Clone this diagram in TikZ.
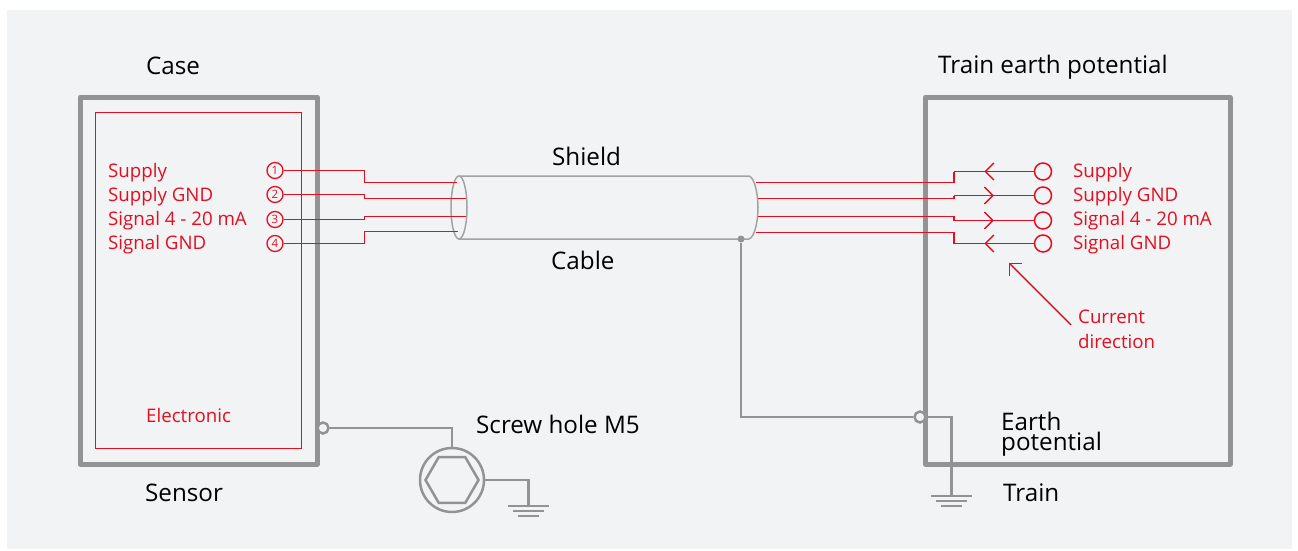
\documentclass[tikz,border=0pt]{standalone}
\usepackage{xcolor}
\usepackage{fontspec}
\setmainfont{Open Sans}
\usetikzlibrary{shapes.geometric, arrows.meta, decorations.markings}
\definecolor{panelgray}{HTML}{F2F3F5}
\definecolor{wirered}{HTML}{E30F20}
\definecolor{framegray}{HTML}{939393}
\tikzset{
  ->-/.style={
    postaction = {decorate},
    decoration = {
      markings,
      mark = at position #1 with {
        \arrow{Straight Barb[length=8.5pt, width=17pt, line width=1.4pt]}
      }
    }
  },
  ->-/.default = 0.5
}
\tikzset{
  -<-/.style={
    postaction = {decorate},
    decoration = {
      markings,
      mark = at position #1 with {
        \arrowreversed{Straight Barb[length=8.5pt, width=17pt, line width=1.4pt]}
      }
    }
  },
  -<-/.default = 0.5
}
\tikzset{
  redlabel/.style={anchor=base west, inner sep=0pt, text=wirered, font=\fontsize{18.7}{22}\selectfont},
  blacklabel/.style={anchor=base west, inner sep=0pt, text=black, font=\fontsize{24.2}{20}\selectfont},
  wire/.style={draw=wirered, line width=1.4pt},
  frame/.style={draw=framegray, line width=5pt, line join=round},
  grayline/.style={draw=framegray, line width=2.5pt},
  cableline/.style={draw=framegray!85, line width=1.5pt},
  pinnum/.style={circle, draw=wirered, line width=1.3pt, inner sep=0pt, minimum size=16pt, text=wirered, font=\fontsize{11.5}{11.5}\selectfont},
  pinopen/.style={circle, draw=wirered, fill=panelgray, line width=1.5pt, inner sep=0pt, minimum size=17pt},
  grayring/.style={circle, draw=framegray, fill=panelgray, line width=2.5pt, inner sep=0pt, minimum size=11pt}
}
\begin{document}
\begin{tikzpicture}[x=1pt, y=-1pt]
\newcommand\XStepL{364.5}
\newcommand\XStepR{954}
\newcommand\XText{1073}
\newcommand\EarthSign[1]{
  \draw[grayline] ([xshift=-20.5pt]#1) -- ([xshift=20.5pt]#1);
  \draw[grayline] ([xshift=-15.5pt, yshift=-5pt]#1) -- ([xshift=15.5pt, yshift=-5pt]#1);
  \draw[grayline] ([xshift=-10.5pt, yshift=-10pt]#1) -- ([xshift=10.5pt, yshift=-10pt]#1);
}
\useasboundingbox (0,0) rectangle (1298,551);
\fill[white] (0,0) rectangle (1298,551);
\fill[panelgray] (7,10) rectangle (1292,549);

\draw[frame] (80,97) rectangle (317,464);
\draw[frame] (925.5,97) rectangle (1230,464);
\draw[wirered, line width=1pt] (95.5,112.5) rectangle (301.5,448.5);

\node[redlabel] (Supply) at (108,177) {Supply};
\node[redlabel] (SupplyGnd) at (108,201) {Supply GND};
\node[redlabel] (Signal) at (108,225) {Signal 4 - 20 mA};
\node[redlabel] (SignalGnd) at (108,249) {Signal GND};
\node[redlabel] (Electronic) at (146,422) {Electronic};
\node[redlabel] (SupplyR) at (\XText,177) {Supply};
\node[redlabel] (SupplyGndR) at (\XText,201) {Supply GND};
\node[redlabel] (SignalR) at (\XText,225) {Signal 4 - 20 mA};
\node[redlabel] (SignalGndR) at (\XText,249) {Signal GND};
\node[redlabel] (Current) at (1078,323) {Current};
\node[redlabel] (Direction) at (1078,348) {direction};

\node[blacklabel] (Case) at (146,74.5) {Case};
\node[blacklabel] (TrainEarth) at (938,74) {Train earth potential};
\node[blacklabel] (Shield) at (552,165) {Shield};
\node[blacklabel] (Cable) at (551,269) {Cable};
\node[blacklabel] (ScrewHole) at (476,433) {Screw hole M5};
\node[blacklabel] (Sensor) at (145,501) {Sensor};
\node[blacklabel, align=left] (EarthTxt) at (1001,450) {Earth\\potential};
\node[blacklabel] (Train) at (1003,501) {Train};

\node[pinnum] (L1) at (275,170.5) {1};
\node[pinnum] (L2) at (275,194.5) {2};
\node[pinnum] (L3) at (275,219.5) {3};
\node[pinnum] (L4) at (275,243.5) {4};
\node[pinopen] (R1) at (1043,171.5) {};
\node[pinopen] (R2) at (1043,195.5) {};
\node[pinopen] (R3) at (1043,220.5) {};
\node[pinopen] (R4) at (1043,243.5) {};

\coordinate (L1a) at (\XStepL,182.5);
\coordinate (L2a) at (\XStepL,198.5);
\coordinate (L3a) at (\XStepL,216.5);
\coordinate (L4a) at (\XStepL,231.5);
\coordinate (C1) at (457,182.5);
\coordinate (C2) at (466,198.5);
\coordinate (C3) at (466,216.5);
\coordinate (C4) at (458,231.5);
\coordinate (D1) at (756,182.5);
\coordinate (D2) at (758,198.5);
\coordinate (D3) at (758,216.5);
\coordinate (D4) at (756,232.5);
\coordinate (S1) at (\XStepR,171.5);
\coordinate (S2) at (\XStepR,195.5);
\coordinate (S3) at (\XStepR,220.5);
\coordinate (S4) at (\XStepR,243.5);

\draw[cableline] (459,207.5) ellipse [x radius=8, y radius=31.5];
\draw[cableline] (459,176) -- (749,176) .. controls (755,178) and (758,195) .. (758,207.5)
  .. controls (758,220) and (755,237) .. (749,239) -- (459,239);

\draw[wire] (L1) -| (L1a) -- (C1);
\draw[wire] (L2) -| (L2a) -- (C2);
\draw[wire] (L3) -| (L3a) -- (C3);
\draw[wire] (L4) -| (L4a) -- (C4);
\draw[wire] (D1) -| (S1);
\draw[wire] (D2) -| (S2);
\draw[wire] (D3) -| (S3);
\draw[wire] (D4) -| (S4);
\path (S1) edge[wire, -<-=0.38] (R1)
      (S2) edge[wire, ->-=0.5] (R2)
      (S3) edge[wire, ->-=0.5] (R3)
      (S4) edge[wire, -<-=0.38] (R4);

\coordinate (ArrowEnd) at (1071,325);
\coordinate (ArrowTip) at (1009,263);
\draw[wire, -{Straight Barb[length=8.5pt, width=17pt]}] (ArrowEnd) -- (ArrowTip);

\node[circle, fill=framegray, inner sep=0pt, minimum size=7pt] (ShieldDot) at (741,239) {};
\node[grayring] (EarthRing) at (920,417) {};
\node[grayring] (CaseRing) at (323,428) {};
\node[circle, draw=framegray, line width=2.5pt, inner sep=0pt, minimum size=64pt] (Screw) at (452,480) {};
\node[regular polygon, regular polygon sides=6, draw=framegray, line width=2.5pt, inner sep=0pt, minimum size=53pt] (ScrewHead) at (452,480) {};
\coordinate (G1) at (528.5,506);
\coordinate (G2) at (951.5,496);

\draw[grayline] (CaseRing) -| (Screw);
\draw[grayline] (Screw) -| (G1);
\draw[grayline] (ShieldDot) |- (EarthRing);
\draw[grayline] (EarthRing) -| (G2);
\EarthSign{G1}
\EarthSign{G2}
\end{tikzpicture}
\end{document}
